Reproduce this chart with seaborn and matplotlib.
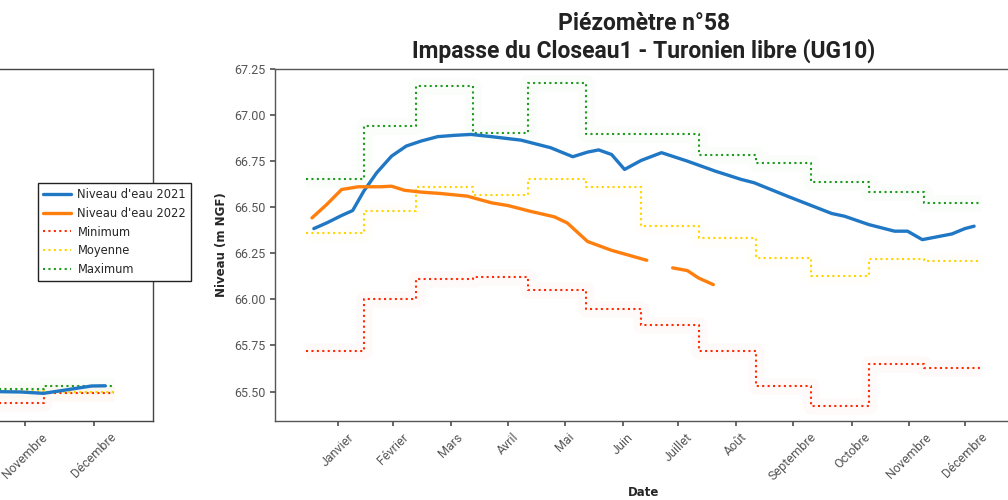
import numpy as np
import pandas as pd
import seaborn as sns
import matplotlib.pyplot as plt
from matplotlib.lines import Line2D

# mois (abscisse = jour de l'annee)
months = ["Janvier", "Février", "Mars", "Avril", "Mai", "Juin", "Juillet",
          "Août", "Septembre", "Octobre", "Novembre", "Décembre"]
month_ticks = [18, 48, 79, 110, 141, 172, 202, 233, 264, 296, 327, 357]
month_edges = [1, 32, 60, 91, 121, 152, 182, 213, 244, 274, 305, 335, 366]

# statistiques mensuelles - piezometre 58
minimum = [65.72, 66.00, 66.11, 66.12, 66.05, 65.95, 65.86, 65.72, 65.53, 65.42, 65.65, 65.63]
moyenne = [66.36, 66.48, 66.61, 66.565, 66.655, 66.61, 66.40, 66.335, 66.225, 66.125, 66.22, 66.21]
maximum = [66.655, 66.94, 67.16, 66.905, 67.175, 66.895, 66.895, 66.785, 66.74, 66.635, 66.58, 66.525]

# niveau d'eau 2021
days_2021 = [5, 12, 20, 26, 32, 39, 47, 55, 63, 72, 81, 90, 101, 117, 133, 145, 153, 159,
             166, 173, 182, 193, 207, 222, 236, 243, 261, 285, 292, 305, 319, 326, 334,
             350, 357, 362]
niveau_2021 = [66.384, 66.415, 66.455, 66.482, 66.587, 66.687, 66.777, 66.832, 66.859,
               66.883, 66.890, 66.895, 66.883, 66.864, 66.823, 66.774, 66.799, 66.811,
               66.786, 66.705, 66.754, 66.796, 66.750, 66.696, 66.651, 66.633, 66.560,
               66.466, 66.451, 66.406, 66.370, 66.370, 66.324, 66.355, 66.384, 66.397]

# niveau d'eau 2022 (lacune entre fin juin et mi-juillet)
days_2022 = [4, 12, 20, 29, 36, 41, 47, 54, 63, 74, 88, 101, 110, 122, 135, 142, 153, 166,
             185, 192, 199, 207, 213, 221]
niveau_2022 = [66.442, 66.515, 66.596, 66.611, 66.611, 66.611, 66.614, 66.592, 66.582,
               66.574, 66.560, 66.524, 66.509, 66.478, 66.448, 66.415, 66.314, 66.266,
               66.212, np.nan, 66.171, 66.156, 66.116, 66.080]

# graphique de gauche (seule la fin d'annee est visible)
left_days = [316, 325, 335, 356, 362]
left_2021 = [65.583, 65.577, 65.550, 65.696, 65.70]
left_minimum = [65.364, 65.551]
left_moyenne = [65.597, 65.583]
left_maximum = [65.630, 65.696]
left_edges = [305, 335, 366]
left_labels = ["", "", "", "", "", "", "", "", "", "", "Novembre", "Décembre"]

sns.set_theme(style="ticks")
plt.rcParams["font.family"] = ["Roboto", "DejaVu Sans"]

fig = plt.figure(figsize=(10.08, 5.0), dpi=100)
ax_left = fig.add_axes([-0.752, 0.158, 0.904, 0.704])
ax = fig.add_axes([0.2728, 0.158, 0.7321, 0.704])

c_2021 = "#2077c4"
c_2022 = "#ff7f0e"
c_min = "#ff2a00"
c_moy = "#ffd500"
c_max = "#1e9a1e"
dots = (0, (1, 1.6))


def steps(a, edges, values, color):
    df = pd.DataFrame({"x": edges, "y": list(values) + [values[-1]]})
    sns.lineplot(data=df, x="x", y="y", ax=a, color=color, lw=1.5, ls=dots,
                 drawstyle="steps-post", sort=False)
    sns.lineplot(data=df, x="x", y="y", ax=a, color=color, lw=12, alpha=0.018,
                 drawstyle="steps-post", sort=False, solid_capstyle="butt")


# graphique principal
for vals, col in [(minimum, c_min), (moyenne, c_moy), (maximum, c_max)]:
    steps(ax, month_edges, vals, col)

df21 = pd.DataFrame({"x": days_2021, "y": niveau_2021})
sns.lineplot(data=df21, x="x", y="y", ax=ax, color=c_2021, lw=2.4)

seg = np.cumsum(np.isnan(niveau_2022))
df22 = pd.DataFrame({"x": days_2022, "y": niveau_2022, "seg": seg}).dropna()
sns.lineplot(data=df22, x="x", y="y", units="seg", estimator=None, ax=ax,
             color=c_2022, lw=2.4)

ax.set_xlim(-16, 383)
ax.set_ylim(65.34, 67.25)
ax.set_yticks([65.50, 65.75, 66.00, 66.25, 66.50, 66.75, 67.00, 67.25])
ax.set_yticklabels([f"{v:.2f}" for v in ax.get_yticks()])
ax.set_xticks(month_ticks)
ax.set_xticklabels(months, rotation=45, ha="center")
ax.tick_params(labelsize=9, labelcolor="#555555", length=3.5, color="#555555")
ax.set_xlabel("Date", family="DejaVu Sans", weight="bold", fontsize=8.5)
ax.xaxis.set_label_coords(0.5, -0.185)
ax.set_ylabel("Niveau (m NGF)", family="DejaVu Sans", weight="bold", fontsize=8.5)
ax.set_title("Piézomètre n°58\nImpasse du Closeau1 - Turonien libre (UG10)",
             fontsize=16.5, weight="bold", color="#222222", pad=8, linespacing=1.2)
for s in ax.spines.values():
    s.set_color("#555555")
    s.set_linewidth(1.0)

# graphique de gauche
for vals, col in [(left_minimum, c_min), (left_moyenne, c_moy), (left_maximum, c_max)]:
    steps(ax_left, left_edges, vals, col)
dfl = pd.DataFrame({"x": left_days, "y": left_2021})
sns.lineplot(data=dfl, x="x", y="y", ax=ax_left, color=c_2021, lw=2.4)
ax_left.set_xlim(-16, 383)
ax_left.set_ylim(65.0, 72.0)
ax_left.set_xticks(month_ticks)
ax_left.set_xticklabels(left_labels, rotation=45, ha="center")
ax_left.set_yticks([])
ax_left.set_xlabel("")
ax_left.set_ylabel("")
ax_left.tick_params(labelsize=9, labelcolor="#555555", length=3.5, color="#555555")
for s in ax_left.spines.values():
    s.set_color("#444444")
    s.set_linewidth(1.0)

handles = [
    Line2D([], [], color=c_2021, lw=2.4),
    Line2D([], [], color=c_2022, lw=2.4),
    Line2D([], [], color=c_min, lw=1.5, ls=dots),
    Line2D([], [], color=c_moy, lw=1.5, ls=dots),
    Line2D([], [], color=c_max, lw=1.5, ls=dots),
]
labels = ["Niveau d'eau 2021", "Niveau d'eau 2022", "Minimum", "Moyenne", "Maximum"]
leg = ax_left.legend(handles, labels, loc="center left", bbox_to_anchor=(0.038, 0.536),
                     bbox_transform=fig.transFigure, borderaxespad=0, fancybox=False,
                     framealpha=1, edgecolor="#222222", handlelength=2.4,
                     handletextpad=0.6, labelspacing=0.5, borderpad=0.4,
                     prop={"family": "DejaVu Sans", "size": 8.3})
leg.get_frame().set_linewidth(1.0)

fig.savefig("out.png", dpi=100)
